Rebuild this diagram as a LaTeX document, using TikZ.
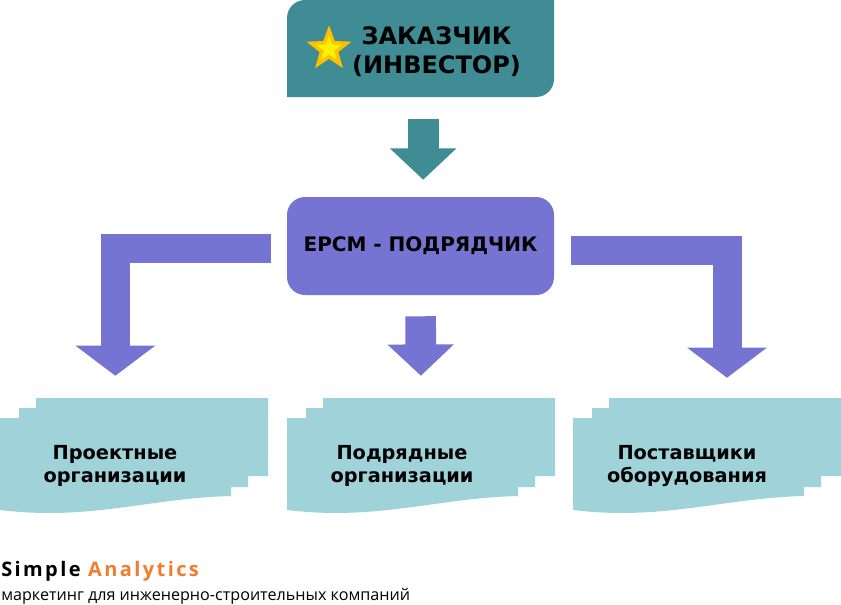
\documentclass[tikz,border=0pt]{standalone}
\usepackage{fontspec}
\setmainfont{DejaVu Sans}
\newfontfamily\logofont[LetterSpace=12]{Open Sans}
\newfontfamily\sloganfont{Open Sans}
\usetikzlibrary{arrows.meta,shapes.geometric}

\definecolor{zakazfill}{HTML}{3F8C94}
\definecolor{epcmfill}{HTML}{7674D3}
\definecolor{docfill}{HTML}{A0D3D9}
\definecolor{logoorange}{HTML}{F07D2E}
\definecolor{stargold}{HTML}{FFC000}

\begin{document}
\begin{tikzpicture}[x=.75pt,y=-.75pt]
            \tikzset{boxarea/.style = {minimum width=200.25pt, minimum height=72.75pt, inner sep=0pt}}
            \tikzset{headtext/.style = {font=\bfseries\fontsize{18}{21.75}\selectfont, align=center, inner sep=0pt}}
            \tikzset{doctext/.style = {font=\bfseries\fontsize{14.5}{16.9}\selectfont, align=center, inner sep=0pt}}
            \tikzset{fatarrow/.style = {line width=21.75pt, -{Triangle[length=22.5pt,width=58.5pt]}}}
            \tikzset{smallarrow/.style = {line width=23pt, -{Triangle[length=23.5pt,width=48.5pt]}}}
            \tikzset{doc/.pic = {
                \fill[docfill] (36,0) -- (268,0) -- (268,78) -- (248,78) -- (248,89) -- (231,89) -- (231,98)
                    .. controls (150,100) and (90,123) .. (0,112) -- (0,20) -- (19,20) -- (19,10) -- (36,10) -- cycle;
                \node[minimum width=201pt, minimum height=84pt, inner sep=0pt] (-box) at (134,56) {};
            }}

            \useasboundingbox (0,0) rectangle (841,604);

            % top box: two corners only are rounded
            \fill[zakazfill] (287,97) [rounded corners=13.5pt] -- (287,0) [sharp corners] -- (554,0) [rounded corners=13.5pt] -- (554,97) [sharp corners] -- cycle;
            \node[boxarea] (zakaz) at (420.5,48.5) {};
            \node[star, star points=5, star point ratio=2.4, minimum size=28pt, inner sep=0pt, fill=yellow, draw=stargold, line width=2.6pt] (zvezda) at (329,49) {};
            \node[headtext] (zakaztext) at (436.5,52) {ЗАКАЗЧИК\\(ИНВЕСТОР)};

            \node[boxarea, minimum height=73.5pt, fill=epcmfill, rounded corners=13.5pt, font=\bfseries\fontsize{15}{18}\selectfont] (epcm) at (420.5,246) {EPCM - ПОДРЯДЧИК};

            \pic (proekt) at (0,398) {doc};
            \pic (podryad) at (287,398) {doc};
            \pic (postav) at (573,398) {doc};

            \node[doctext] (proekttext) at (115,466) {Проектные\\организации};
            \node[doctext] (podryadtext) at (402,466) {Подрядные\\организации};
            \node[doctext] (postavtext) at (687,466) {Поставщики\\оборудования};

            \draw [smallarrow, zakazfill, shorten <=16.5pt, shorten >=12.75pt] ([xshift=2pt]zakaz.south) to ([xshift=2pt]epcm.north);
            \draw [smallarrow, epcmfill, shorten <=15.75pt, shorten >=16.5pt] (epcm.south) to (podryad-box.north);
            \draw [fatarrow, epcmfill, shorten <=12pt, shorten >=16.5pt] ([yshift=-1.5pt]epcm.west) -| ([xshift=-14pt]proekt-box.north);
            \draw [fatarrow, epcmfill, shorten <=12.75pt, shorten >=15pt] ([yshift=-3.4pt]epcm.east) -| ([xshift=15pt]postav-box.north);

            \node[anchor=base west, inner sep=0pt, font=\logofont\bfseries\fontsize{15}{18}\selectfont] (logo) at (1,576) {Simple \textcolor{logoorange}{Analytics}};
            \node[anchor=base west, inner sep=0pt, font=\sloganfont\fontsize{12.1}{14}\selectfont] (slogan) at (1,600) {маркетинг для инженерно-строительных компаний};
\end{tikzpicture}
\end{document}
